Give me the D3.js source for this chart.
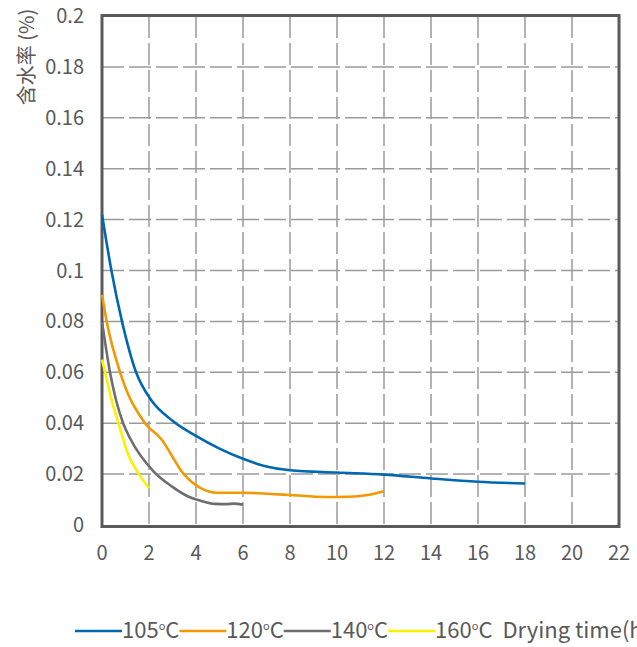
<!DOCTYPE html>
<html>
<head>
<meta charset="utf-8">
<script src="https://cdn.jsdelivr.net/npm/d3@7"></script>
<style>
  body { margin: 0; background: #fff; }
  svg { display: block; font-family: "Noto Sans CJK SC", "Noto Sans", sans-serif; }
</style>
</head>
<body>
<svg id="chart" width="637" height="647"></svg>
<script>
// series: [hours, moisture %]
var s105 = [[0, 0.122], [0.4, 0.1], [0.85, 0.08], [1.45, 0.06], [2.1, 0.049], [3, 0.041], [4, 0.035],
  [5, 0.030], [6, 0.026], [7, 0.023], [8, 0.0215], [10, 0.0206], [12, 0.0198], [14, 0.0183], [16, 0.017], [18, 0.0163]];
var s120 = [[0, 0.0905], [0.2, 0.08], [0.77, 0.06], [1.83, 0.04], [2.5, 0.034], [3.5, 0.0198], [4.2, 0.0145],
  [4.9, 0.0127], [6, 0.0127], [7, 0.0123], [8, 0.0118], [9.5, 0.011], [10.5, 0.0111], [11.3, 0.0118], [12, 0.0133]];
var s140 = [[0, 0.08], [0.34, 0.06], [0.6, 0.049], [0.9, 0.04], [1.2, 0.034], [2.2, 0.021], [3, 0.015],
  [3.6, 0.0115], [4.2, 0.0095], [4.8, 0.0083], [5.3, 0.0082], [5.6, 0.0084], [6, 0.008]];
var s160 = [[0, 0.065], [0.13, 0.06], [0.41, 0.049], [0.7, 0.04], [1.1, 0.028], [1.55, 0.0203], [2, 0.0145]];

var seriesNames = ["105", "120", "140", "160"];
var seriesColors = ["#0068b0", "#f39800", "#6e6e6e", "#fff000"];
var seriesData = [s105, s120, s140, s160];

var xTicks = [0, 2, 4, 6, 8, 10, 12, 14, 16, 18, 20, 22];
var yTicks = [0, 0.02, 0.04, 0.06, 0.08, 0.1, 0.12, 0.14, 0.16, 0.18, 0.2];

var textColor = "#595959";
var svg = d3.select("#chart");

var x = d3.scaleLinear().domain([0, 22]).range([102, 619]);
var y = d3.scaleLinear().domain([0, 0.2]).range([525, 16]);

// gridlines
svg.append("g")
  .selectAll("line")
  .data(yTicks.slice(1, -1))
  .enter().append("line")
  .attr("x1", x(0)).attr("x2", x(22))
  .attr("y1", function (d) { return y(d); })
  .attr("y2", function (d) { return y(d); })
  .attr("stroke", "#9a9a9a").attr("stroke-width", 1.5)
  .attr("stroke-dasharray", "22,5");

svg.append("g")
  .selectAll("line")
  .data(xTicks.slice(1, -1))
  .enter().append("line")
  .attr("x1", function (d) { return x(d); })
  .attr("x2", function (d) { return x(d); })
  .attr("y1", y(0.2)).attr("y2", y(0))
  .attr("stroke", "#9a9a9a").attr("stroke-width", 1.5)
  .attr("stroke-dasharray", "22,5");

// frame
svg.append("rect")
  .attr("x", x(0)).attr("y", y(0.2) - 0.5)
  .attr("width", x(22) - x(0))
  .attr("height", y(0) - y(0.2) + 2)
  .attr("fill", "none")
  .attr("stroke", "#5a5a5a").attr("stroke-width", 3);

// tick labels
svg.append("g")
  .selectAll("text")
  .data(yTicks)
  .enter().append("text")
  .attr("x", 84)
  .attr("y", function (d) { return y(d); })
  .attr("dy", "0.35em")
  .attr("text-anchor", "end")
  .attr("font-size", 20)
  .attr("fill", textColor)
  .text(function (d) { return d3.format("")(+d.toFixed(2)); });

svg.append("g")
  .selectAll("text")
  .data(xTicks)
  .enter().append("text")
  .attr("x", function (d) { return x(d); })
  .attr("y", 560)
  .attr("text-anchor", "middle")
  .attr("font-size", 20)
  .attr("fill", textColor)
  .text(function (d) { return d; });

// y title
svg.append("text")
  .attr("transform", "translate(34,57) rotate(-90)")
  .attr("text-anchor", "middle")
  .attr("font-size", 20)
  .attr("fill", textColor)
  .text("含水率 (%)");

// curves
var line = d3.line()
  .x(function (d) { return x(d[0]); })
  .y(function (d) { return y(d[1]); })
  .curve(d3.curveMonotoneX);

svg.append("g")
  .selectAll("path")
  .data(seriesData)
  .enter().append("path")
  .attr("d", line)
  .attr("fill", "none")
  .attr("stroke", function (d, i) { return seriesColors[i]; })
  .attr("stroke-width", 2.6);

// legend
var lx = 75, ly = 631;
var legend = svg.append("g");
seriesNames.forEach(function (name, i) {
  legend.append("line")
    .attr("x1", lx).attr("x2", lx + 47)
    .attr("y1", ly).attr("y2", ly)
    .attr("stroke", seriesColors[i]).attr("stroke-width", 2.6);
  lx += 47;
  var t = legend.append("text")
    .attr("x", lx).attr("y", ly + 7)
    .attr("font-size", 22)
    .attr("fill", textColor);
  t.append("tspan").text(name);
  t.append("tspan").attr("font-size", 11).attr("dy", -8).text("o");
  t.append("tspan").attr("dy", 8).text("C");
  lx += t.node().getComputedTextLength();
});

svg.append("text")
  .attr("x", lx + 10).attr("y", ly + 7)
  .attr("font-size", 22)
  .attr("fill", textColor)
  .text("Drying time(h)");
</script>
</body>
</html>
